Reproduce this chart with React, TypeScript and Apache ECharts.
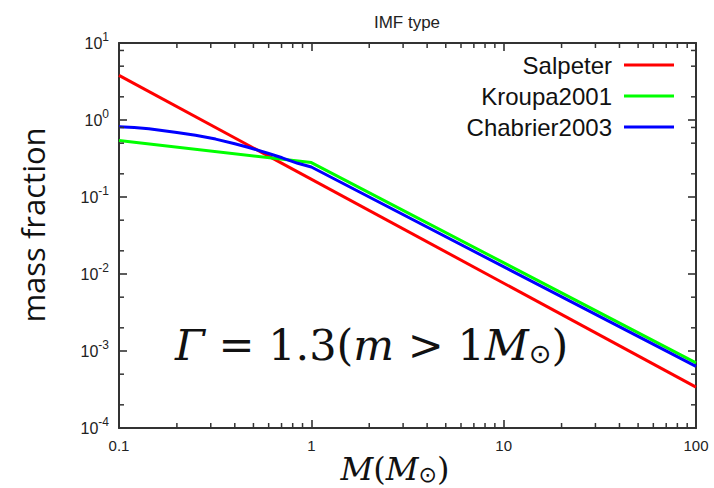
import React, { useEffect, useRef } from "react";
import * as echarts from "echarts";

// ---- data ----
const seriesNames = ["Salpeter", "Kroupa2001", "Chabrier2003"];
const seriesColors = ["#ff0000", "#00ff00", "#0000ff"];

const massSalpeter = [0.1, 100];
const fracSalpeter = [3.8, 3.4e-4];

const massKroupa = [0.1, 1, 100];
const fracKroupa = [0.54, 0.28, 7.0e-4];

const massChabrier = [0.1, 0.12, 0.143, 0.2, 0.25, 0.318, 0.4, 0.473, 0.6, 0.705, 0.85, 1, 100];
const fracChabrier = [0.818, 0.8, 0.77, 0.69, 0.632, 0.565, 0.492, 0.44, 0.367, 0.323, 0.274, 0.245, 6.3e-4];

const xTickLabels = ["0.1", "1", "10", "100"];
const yTickExponents = ["-4", "-3", "-2", "-1", "0", "1"];

const xMinorTicks = [
  0.2, 0.3, 0.4, 0.5, 0.6, 0.7, 0.8, 0.9,
  2, 3, 4, 5, 6, 7, 8, 9,
  20, 30, 40, 50, 60, 70, 80, 90,
];
const yMinorTicks = [8, 5, 2, 0.8, 0.5, 0.2, 0.05, 0.02, 0.005, 0.002, 0.0005, 0.0002];

const X_MIN = 0.1;
const X_MAX = 100;
const Y_MIN = 1e-4;
const Y_MAX = 10;

const AXIS_COLOR = "#333333";

function pairs(xs: number[], ys: number[]) {
  return xs.map((x, i) => [x, ys[i]]);
}

function tickSeries(name: string, data: number[][], size: number[], offset: number[]) {
  return {
    type: "scatter",
    name,
    silent: true,
    xAxisIndex: 0,
    yAxisIndex: 0,
    symbol: "rect",
    symbolSize: size,
    symbolOffset: offset,
    itemStyle: { color: AXIS_COLOR, opacity: 1, borderWidth: 0 },
    clip: false,
    data,
    z: 10,
  };
}

export default function App() {
  const ref = useRef<HTMLDivElement>(null);

  useEffect(() => {
    if (!ref.current) return;
    const chart = echarts.init(ref.current, null, { renderer: "svg" });

    const lineSeries = [
      pairs(massSalpeter, fracSalpeter),
      pairs(massKroupa, fracKroupa),
      pairs(massChabrier, fracChabrier),
    ].map((data, i) => ({
      type: "line",
      name: seriesNames[i],
      data,
      xAxisIndex: 0,
      yAxisIndex: 0,
      showSymbol: false,
      symbol: "none",
      smooth: false,
      lineStyle: { color: seriesColors[i], width: 3 },
      itemStyle: { color: seriesColors[i] },
      z: 3 + i,
    }));

    const minorTicks = [
      tickSeries("minorBottom", xMinorTicks.map((v) => [v, Y_MIN]), [1.5, 5], [0, -2.5]),
      tickSeries("minorTop", xMinorTicks.map((v) => [v, Y_MAX]), [1.5, 5], [0, 2.5]),
      tickSeries("minorLeft", yMinorTicks.map((v) => [X_MIN, v]), [5, 1.5], [2.5, 0]),
      tickSeries("minorRight", yMinorTicks.map((v) => [X_MAX, v]), [5, 1.5], [-2.5, 0]),
    ];

    const xAxisBase = {
      type: "log",
      logBase: 10,
      min: X_MIN,
      max: X_MAX,
      interval: 1,
      splitLine: { show: false },
      axisLine: { show: true, lineStyle: { color: AXIS_COLOR, width: 2 } },
      axisTick: { show: true, inside: true, length: 8, lineStyle: { color: AXIS_COLOR, width: 1.6 } },
      minorTick: { show: false },
    };
    const yAxisBase = {
      type: "log",
      logBase: 10,
      min: Y_MIN,
      max: Y_MAX,
      interval: 1,
      splitLine: { show: false },
      axisLine: { show: true, lineStyle: { color: AXIS_COLOR, width: 2 } },
      axisTick: { show: true, inside: true, length: 8, lineStyle: { color: AXIS_COLOR, width: 1.6 } },
      minorTick: { show: false },
    };

    const legendTops = [53, 84, 115];
    const legends = seriesNames.map((name, i) => ({
      data: [name],
      orient: "horizontal",
      right: 40,
      top: legendTops[i],
      align: "right",
      padding: 0,
      itemGap: 0,
      icon: "rect",
      itemWidth: 50,
      itemHeight: 3,
      selectedMode: false,
      textStyle: {
        fontSize: 24,
        fontFamily: "Liberation Sans",
        color: "#111111",
        padding: [0, 7, 0, 0],
      },
    }));

    const option: any = {
      animation: false,
      backgroundColor: "#ffffff",
      title: {
        text: "IMF type",
        left: 407,
        top: 14,
        textAlign: "center",
        padding: 0,
        textStyle: {
          fontSize: 17,
          fontWeight: "normal",
          fontFamily: "Liberation Sans",
          color: "#222222",
        },
      },
      legend: legends,
      grid: { left: 119, right: 18, top: 43, bottom: 60, containLabel: false },
      xAxis: [
        {
          ...xAxisBase,
          position: "bottom",
          axisLabel: {
            show: true,
            margin: 10,
            fontSize: 15,
            fontFamily: "Liberation Sans",
            color: "#222222",
            formatter: (v: number, idx: number) => xTickLabels[idx] ?? "",
          },
        },
        {
          ...xAxisBase,
          position: "top",
          axisLabel: { show: false },
        },
      ],
      yAxis: [
        {
          ...yAxisBase,
          position: "left",
          axisLabel: {
            show: true,
            margin: 10,
            formatter: (v: number, idx: number) => `{b|10}{s|${yTickExponents[idx] ?? ""}}`,
            rich: {
              b: { fontSize: 16, fontFamily: "Liberation Sans", color: "#222222" },
              s: {
                fontSize: 12,
                fontFamily: "Liberation Sans",
                color: "#222222",
                padding: [0, 0, 12, 0],
              },
            },
          },
        },
        {
          ...yAxisBase,
          position: "right",
          axisLabel: { show: false },
        },
      ],
      series: [...lineSeries, ...minorTicks],
      graphic: [
        {
          type: "text",
          x: 33,
          y: 225,
          rotation: Math.PI / 2,
          style: {
            text: "mass fraction",
            fontSize: 31,
            fontFamily: "Open Sans",
            fill: "#111111",
            align: "center",
            verticalAlign: "middle",
          },
        },
        {
          type: "text",
          x: 395,
          y: 469,
          style: {
            text: "{i|M}{n|(}{i|M}{sub|⊙}{n|)}",
            align: "center",
            verticalAlign: "middle",
            rich: {
              i: { fontSize: 32, fontFamily: "DejaVu Serif", fontStyle: "italic", fill: "#111111" },
              n: { fontSize: 32, fontFamily: "DejaVu Serif", fill: "#111111" },
              sub: { fontSize: 22, fontFamily: "DejaVu Sans", fill: "#111111", verticalAlign: "bottom" },
            },
          },
        },
        {
          type: "text",
          x: 175,
          y: 345,
          style: {
            text: "{i|Γ}{n| = 1.3(}{i|m}{n| > 1}{i|M}{sub|⊙}{n|)}",
            align: "left",
            verticalAlign: "middle",
            rich: {
              i: { fontSize: 43, fontFamily: "DejaVu Serif", fontStyle: "italic", fill: "#111111" },
              n: { fontSize: 43, fontFamily: "DejaVu Serif", fill: "#111111" },
              sub: { fontSize: 27, fontFamily: "DejaVu Sans", fill: "#111111", verticalAlign: "bottom" },
            },
          },
        },
      ],
    };

    chart.setOption(option);
    return () => chart.dispose();
  }, []);

  return (
    <div
      ref={ref}
      style={{ position: "absolute", left: 0, top: 0, width: 714, height: 488 }}
    />
  );
}
